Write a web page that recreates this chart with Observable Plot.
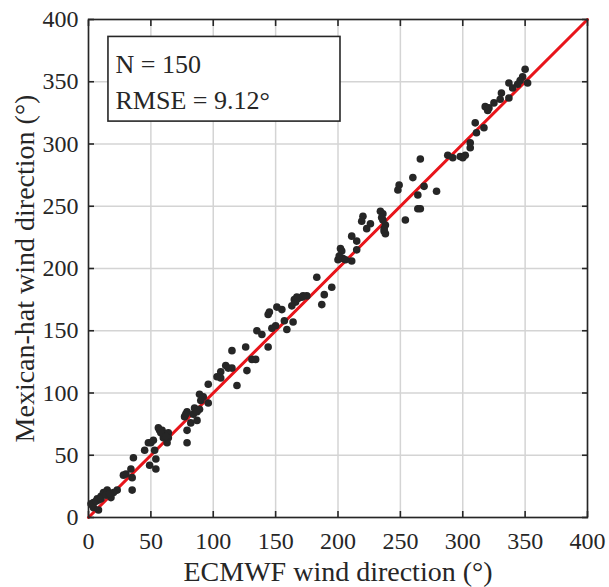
<!DOCTYPE html>
<html>
<head>
<meta charset="utf-8">
<script src="https://cdn.jsdelivr.net/npm/d3@7"></script>
<script src="https://cdn.jsdelivr.net/npm/@observablehq/plot@0.6"></script>
<style>
  html, body { margin: 0; padding: 0; background: #fff; }
  #chart svg { display: block; }
</style>
</head>
<body>
<div id="chart"></div>
<script>
// ECMWF wind direction (x) vs Mexican-hat wind direction (y), degrees
const ecmwf = [
  2, 4, 4, 8, 7, 8, 10, 12, 13, 15, 18, 23, 28, 30, 34, 36, 35, 35,
  45, 48, 50, 52, 53, 54, 49, 54, 56, 59, 62, 64, 64, 63, 60,
  77, 79, 79, 79, 82, 84, 85, 87, 89, 90, 89, 96, 96,
  106, 106, 110, 115, 115, 119, 126, 127, 131, 134, 135, 139, 144, 144, 145,
  150, 151, 155, 157, 159, 164, 165, 166, 167, 171, 175, 183, 187, 189,
  195, 200, 204, 211, 202, 203, 215, 211, 215, 220, 219, 226, 223,
  234, 236, 236, 238, 237, 238, 249, 248, 254, 260, 264, 266, 264, 266, 269, 279,
  288, 292, 298, 300, 306, 306, 310, 311, 317, 318, 320, 325, 330, 331,
  337, 337, 344, 348, 350, 352,
  3, 6, 10, 14, 20, 17, 57, 58, 62, 92, 87, 78, 103, 112, 147,
  163, 168, 172, 201, 206, 235, 237, 302, 321, 340, 346
];
const mexicanHat = [
  11, 12, 8, 6, 15, 14, 17, 20, 19, 22, 16, 22, 34, 35, 39, 48, 32, 22,
  54, 60, 60, 62, 54, 47, 42, 39, 72, 70, 67, 68, 64, 60, 64,
  81, 85, 70, 60, 76, 83, 88, 78, 87, 94, 99, 92, 107,
  117, 112, 122, 134, 120, 106, 137, 118, 127, 127, 150, 147, 137, 163, 165,
  154, 169, 167, 158, 151, 157, 175, 173, 177, 177, 178, 193, 171, 179,
  185, 207, 208, 206, 216, 214, 215, 226, 222, 242, 238, 236, 232,
  246, 244, 239, 235, 230, 228, 267, 263, 239, 273, 259, 288, 248, 248, 266, 262,
  291, 289, 290, 289, 301, 297, 317, 309, 313, 330, 327, 333, 336, 341,
  337, 349, 348, 354, 360, 349,
  10, 13, 15, 18, 20, 19, 70, 68, 65, 97, 85, 83, 113, 120, 152,
  170, 176, 178, 210, 207, 241, 232, 291, 329, 345, 351
];
const tickValues = [0, 50, 100, 150, 200, 250, 300, 350, 400];
const oneToOneX = [0, 400];
const oneToOneY = [0, 400];
const statLines = ["N = 150", "RMSE = 9.12°"];
const statBox = {x1: 16, x2: 202, y1: 318, y2: 386};
const xTitle = "ECMWF wind direction (°)";
const yTitle = "Mexican-hat wind direction (°)";

const points = ecmwf.map((x, i) => ({x, y: mexicanHat[i]}));
const refLine = oneToOneX.map((x, i) => ({x, y: oneToOneY[i]}));

const font = "'Liberation Serif', 'Times New Roman', serif";
const ink = "#262626";

const chart = Plot.plot({
  width: 609,
  height: 587,
  marginLeft: 88,
  marginRight: 22,
  marginTop: 19,
  marginBottom: 70,
  style: {fontFamily: font, fontSize: "24px", color: ink, background: "#fff"},
  x: {domain: [0, 400]},
  y: {domain: [0, 400]},
  marks: [
    Plot.gridX(tickValues, {stroke: "#d4d4d4", strokeOpacity: 1, strokeWidth: 1.5}),
    Plot.gridY(tickValues, {stroke: "#d4d4d4", strokeOpacity: 1, strokeWidth: 1.5}),
    Plot.line(refLine, {x: "x", y: "y", stroke: "#e8151b", strokeWidth: 3}),
    Plot.dot(points, {x: "x", y: "y", r: 3.8, fill: ink, stroke: "none"}),
    Plot.frame({stroke: ink, strokeWidth: 1.6}),
    Plot.axisX(tickValues, {anchor: "bottom", tickSize: -6, tickPadding: 20, strokeWidth: 1.6, stroke: ink,
      fontSize: 24, label: null}),
    Plot.axisX(tickValues, {anchor: "top", tickSize: -6, tickFormat: () => "", strokeWidth: 1.6, stroke: ink, label: null}),
    Plot.axisY(tickValues, {anchor: "left", tickSize: -6, tickPadding: 16, strokeWidth: 1.6, stroke: ink,
      fontSize: 24, label: null}),
    Plot.axisY(tickValues, {anchor: "right", tickSize: -6, tickFormat: () => "", strokeWidth: 1.6, stroke: ink, label: null}),
    Plot.text([xTitle], {text: d => d, frameAnchor: "bottom", dy: 55, lineAnchor: "middle", textAnchor: "middle", fontSize: 28, fill: ink}),
    Plot.text([yTitle], {text: d => d, frameAnchor: "left", dx: -63, rotate: -90, lineAnchor: "middle", textAnchor: "middle", fontSize: 28, fill: ink}),
    Plot.rect([statBox], {x1: "x1", x2: "x2", y1: "y1", y2: "y2", fill: "white", stroke: ink, strokeWidth: 1.6}),
    Plot.text([statLines.join("\n")], {text: d => d, frameAnchor: "top-left", dx: 27, dy: 29, lineAnchor: "top",
      lineHeight: 1.35, fontSize: 26, fill: ink})
  ]
});
document.getElementById("chart").appendChild(chart);
</script>
</body>
</html>
